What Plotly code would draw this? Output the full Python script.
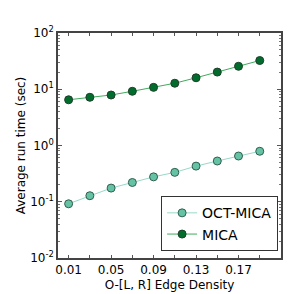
import plotly.graph_objects as go

density = [0.01, 0.03, 0.05, 0.07, 0.09, 0.11, 0.13, 0.15, 0.17, 0.19]
oct_mica = [0.092, 0.128, 0.175, 0.22, 0.277, 0.333, 0.43, 0.53, 0.65, 0.79]
mica = [6.5, 7.2, 7.9, 9.2, 10.8, 12.8, 16.0, 20.2, 25.6, 32.4]

x_tickvals = [0.01, 0.05, 0.09, 0.13, 0.17]
x_ticktext = ["0.01", "0.05", "0.09", "0.13", "0.17"]
y_tickvals = [0.01, 0.1, 1, 10, 100]
y_ticktext = ["10<sup>-2</sup>", "10<sup>-1</sup>", "10<sup>0</sup>", "10<sup>1</sup>", "10<sup>2</sup>"]

fig = go.Figure()
fig.add_trace(go.Scatter(
    x=density, y=oct_mica, mode="lines+markers", name="OCT-MICA",
    line=dict(color="#99d8c9", width=1),
    marker=dict(size=8, color="#66c2a4", line=dict(color="#2f5f4f", width=1)),
))
fig.add_trace(go.Scatter(
    x=density, y=mica, mode="lines+markers", name="MICA",
    line=dict(color="#41ab5d", width=1),
    marker=dict(size=8, color="#006d2c", line=dict(color="#1f3f2a", width=1)),
))

font = "DejaVu Sans"
fig.update_layout(
    width=299, height=294,
    margin=dict(l=38, r=26, t=25, b=34),
    paper_bgcolor="white", plot_bgcolor="white",
    font=dict(family=font, size=12, color="black"),
    showlegend=True,
    legend=dict(
        x=0.987, y=0.03, xanchor="right", yanchor="bottom",
        bordercolor="#333", borderwidth=1, bgcolor="white",
        font=dict(size=14, family=font),
        tracegroupgap=0, itemwidth=30,
    ),
)
fig.update_xaxes(
    range=[0, 0.21], tickvals=x_tickvals, ticktext=x_ticktext,
    ticks="inside", ticklen=3, tickcolor="#555",
    minor=dict(tickvals=[0.03, 0.07, 0.11, 0.15, 0.19], ticks="inside", ticklen=3, tickcolor="#555"),
    showline=True, linecolor="#444", linewidth=1.5, mirror="allticks",
    showgrid=False, zeroline=False,
    title=dict(text="O-[L, R] Edge Density", font=dict(size=12), standoff=4),
    tickfont=dict(size=12),
)
fig.update_yaxes(
    type="log", range=[-2, 2], tickvals=y_tickvals, ticktext=y_ticktext,
    ticks="inside", ticklen=4, tickcolor="#555",
    minor=dict(ticks="inside", ticklen=2, tickcolor="#777", dtick="D1"),
    showline=True, linecolor="#444", linewidth=1.5, mirror="allticks",
    showgrid=False, zeroline=False,
    title=dict(text="Average run time (sec)", font=dict(size=12), standoff=2),
    tickfont=dict(size=12),
)

fig.write_html("out.html")
